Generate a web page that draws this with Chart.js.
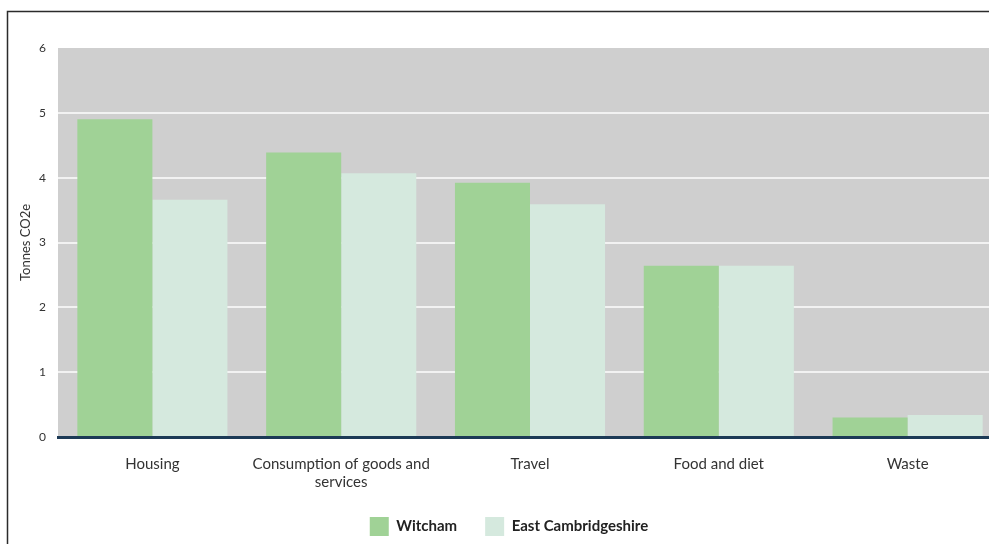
<!DOCTYPE html>
<html>
<head>
<meta charset="utf-8">
<title>Tonnes CO2e by category</title>
<script src="https://cdn.jsdelivr.net/npm/chart.js@4"></script>
<style>
  html, body { margin: 0; padding: 0; background: #fff; overflow: hidden; }
  #wrap { position: absolute; left: 0; top: 0; width: 1010px; height: 544px; }
</style>
</head>
<body>
<div id="wrap"><canvas id="myChart" width="1010" height="544"></canvas></div>
<script>
const categories = ['Housing', ['Consumption of goods and', 'services'], 'Travel', 'Food and diet', 'Waste'];
const witcham = [4.9, 4.39, 3.92, 2.64, 0.3];
const eastCambs = [3.66, 4.07, 3.59, 2.64, 0.34];
const yMin = 0;
const yMax = 6;
const yStep = 1;

const fontFamily = "Lato, 'Open Sans', sans-serif";

// grey plot panel behind the bars, thin frame round the figure,
// and a small nudge so the legend sits a little right of centre
const panel = {
    id: 'panel',
    afterLayout(chart) {
        const lg = chart.legend;
        lg.left += 8; lg.right += 8;
        lg.top += 2; lg.bottom += 2;
    },
    beforeDraw(chart) {
        const { ctx, chartArea: a } = chart;
        ctx.save();
        ctx.fillStyle = '#cfcfcf';
        ctx.fillRect(a.left, a.top, a.right - a.left, a.bottom - a.top);
        ctx.restore();
    },
    afterDraw(chart) {
        const ctx = chart.ctx;
        ctx.save();
        ctx.strokeStyle = '#2b2b2b';
        ctx.lineWidth = 1.5;
        ctx.beginPath();
        ctx.moveTo(7.5, chart.height + 5);
        ctx.lineTo(7.5, 11.5);
        ctx.lineTo(chart.width + 5, 11.5);
        ctx.stroke();
        ctx.restore();
    }
};

const ctx = document.getElementById('myChart');
new Chart(ctx, {
    type: 'bar',
    data: {
        labels: categories,
        datasets: [{
            label: 'Witcham',
            data: witcham,
            backgroundColor: '#a0d296',
            borderWidth: 0
        }, {
            label: 'East Cambridgeshire',
            data: eastCambs,
            backgroundColor: '#d5e9de',
            borderWidth: 0
        }]
    },
    options: {
        responsive: false,
        animation: false,
        layout: {
            padding: { top: 48, right: 8, bottom: 0, left: 0 }
        },
        datasets: {
            bar: {
                categoryPercentage: 0.795,
                barPercentage: 1.0
            }
        },
        scales: {
            x: {
                grid: { display: false, drawTicks: false },
                border: { display: true, color: '#1c3a56', width: 3 },
                ticks: {
                    color: '#333',
                    padding: 18,
                    maxRotation: 0,
                    autoSkip: false,
                    font: { family: fontFamily, size: 15 }
                },
                afterFit(scale) { scale.height = 50; }
            },
            y: {
                min: yMin,
                max: yMax,
                ticks: {
                    stepSize: yStep,
                    color: '#333',
                    padding: 12,
                    font: { family: fontFamily, size: 12 }
                },
                grid: {
                    drawTicks: false,
                    lineWidth: 2,
                    color: c => (c.tick && (c.tick.value === yMin || c.tick.value === yMax)) ? 'rgba(0,0,0,0)' : '#f2f2f2'
                },
                border: { display: false },
                title: {
                    display: true,
                    text: 'Tonnes CO2e',
                    color: '#333',
                    padding: { top: 18, bottom: 4 },
                    font: { family: fontFamily, size: 13 }
                },
                afterFit(scale) { scale.width = 58; }
            }
        },
        plugins: {
            legend: {
                position: 'bottom',
                labels: {
                    boxWidth: 19,
                    boxHeight: 19,
                    padding: 28,
                    color: '#222',
                    font: { family: fontFamily, size: 15, weight: 'bold' }
                }
            },
            tooltip: { enabled: false }
        }
    },
    plugins: [panel]
});
</script>
</body>
</html>
